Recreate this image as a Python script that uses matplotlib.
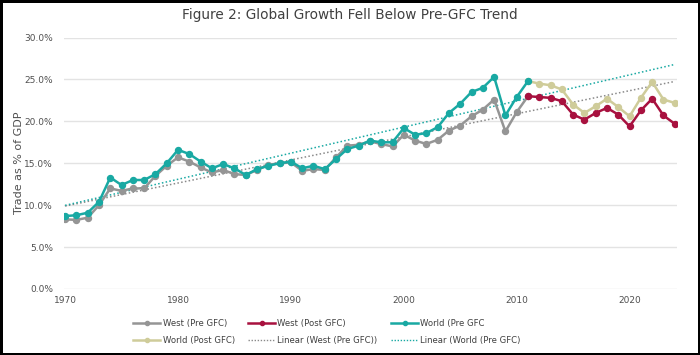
import numpy as np
from matplotlib import pyplot as plt
from matplotlib.lines import Line2D

# data (trade as % of GDP)
years_pre = list(range(1970, 2012))
years_post = list(range(2011, 2025))

west_pre = [8.3, 8.25, 8.5, 10.0, 12.0, 11.7, 12.0, 12.0, 13.5, 14.7,
            15.7, 15.2, 14.5, 13.9, 14.2, 13.7, 13.6, 14.2, 14.8, 15.0,
            15.1, 14.1, 14.3, 14.2, 15.7, 17.1, 17.2, 17.6, 17.3, 17.0,
            18.4, 17.7, 17.3, 17.8, 18.9, 19.5, 20.6, 21.4, 22.6, 18.8,
            21.1, 23.0]
world_pre = [8.7, 8.8, 9.1, 10.4, 13.3, 12.4, 13.0, 13.0, 13.7, 15.0,
             16.6, 16.1, 15.2, 14.4, 14.9, 14.4, 13.6, 14.3, 14.7, 15.0,
             15.2, 14.4, 14.7, 14.3, 15.5, 16.7, 17.1, 17.7, 17.5, 17.5,
             19.2, 18.4, 18.6, 19.3, 21.0, 22.1, 23.5, 24.0, 25.3, 20.7,
             22.9, 24.8]
west_post = [23.0, 22.9, 22.8, 22.4, 20.8, 20.2, 21.0, 21.6, 20.8, 19.4,
             21.3, 22.7, 20.7, 19.7]
world_post = [24.8, 24.5, 24.3, 23.8, 22.0, 21.0, 21.8, 22.7, 21.7, 20.6,
              22.8, 24.7, 22.6, 22.2]

yticks = [0, 5, 10, 15, 20, 25, 30]
xticks = [1970, 1980, 1990, 2000, 2010, 2020]

c_west_pre = '#959595'
c_west_post = '#A8113F'
c_world_pre = '#19A9A3'
c_world_post = '#CFCC9A'

fig = plt.figure(figsize=(7, 3.55), dpi=100, edgecolor='black', linewidth=2.5)
ax = fig.add_axes([64/700, 1 - 289/355, 613/700, 251.5/355])

lw = 1.8
ms = 4.3
ax.plot(years_pre, west_pre, color=c_west_pre, lw=lw, marker='o', ms=ms, zorder=3)
ax.plot(years_post, west_post, color=c_west_post, lw=lw, marker='o', ms=ms, zorder=3)
ax.plot(years_pre, world_pre, color=c_world_pre, lw=lw, marker='o', ms=ms, zorder=4)
ax.plot(years_post, world_post, color=c_world_post, lw=lw, marker='o', ms=ms, zorder=3)

# linear trendlines fitted on the pre-GFC series, projected to 2024
xt = np.array([1970, 2024])
pw = np.polyfit(years_pre, west_pre, 1)
pv = np.polyfit(years_pre, world_pre, 1)
ax.plot(xt, np.polyval(pw, xt), color='#8a8a8a', lw=1.1, ls=(0, (1, 1.5)), zorder=2)
ax.plot(xt, np.polyval(pv, xt), color=c_world_pre, lw=1.1, ls=(0, (1, 1.5)), zorder=2)

ax.set_xlim(1969.9, 2024.2)
ax.set_ylim(0, 30)
ax.set_yticks(yticks)
ax.set_yticklabels(['%.1f%%' % v for v in yticks])
ax.set_xticks(xticks)
ax.grid(axis='y', color='#e3e3e3', lw=1)
ax.set_axisbelow(True)
for s in ax.spines.values():
    s.set_visible(False)
ax.tick_params(length=0, labelsize=6.5, labelcolor='#505050')
ax.tick_params(axis='y', pad=8)
ax.tick_params(axis='x', pad=5)

ax.set_ylabel('Trade as % of GDP', fontsize=8, color='#505050', labelpad=0)
fig.text(0.5, 1 - 15/355, 'Figure 2: Global Growth Fell Below Pre-GFC Trend',
         ha='center', va='center', fontsize=9.8, color='#404040')

handles = [
    Line2D([], [], color=c_west_pre, lw=lw, marker='o', ms=3),
    Line2D([], [], color=c_west_post, lw=lw, marker='o', ms=3),
    Line2D([], [], color=c_world_pre, lw=lw, marker='o', ms=3),
    Line2D([], [], color=c_world_post, lw=lw, marker='o', ms=3),
    Line2D([], [], color='#8a8a8a', lw=1.0, ls=(0, (1, 1.2))),
    Line2D([], [], color=c_world_pre, lw=1.0, ls=(0, (1, 1.2))),
]
labels = ['West (Pre GFC)', 'West (Post GFC)', 'World (Pre GFC',
          'World (Post GFC)', 'Linear (West (Pre GFC))', 'Linear (World (Pre GFC)']
order = [0, 3, 1, 4, 2, 5]
fig.legend([handles[i] for i in order], [labels[i] for i in order],
           ncol=3, loc='center', bbox_to_anchor=(327/700, 1 - 332/355),
           frameon=False, fontsize=6.1, handlelength=3.2, handletextpad=0.25,
           columnspacing=1.6, labelspacing=0.95, labelcolor='#404040')

fig.savefig('out.png', dpi=100)
